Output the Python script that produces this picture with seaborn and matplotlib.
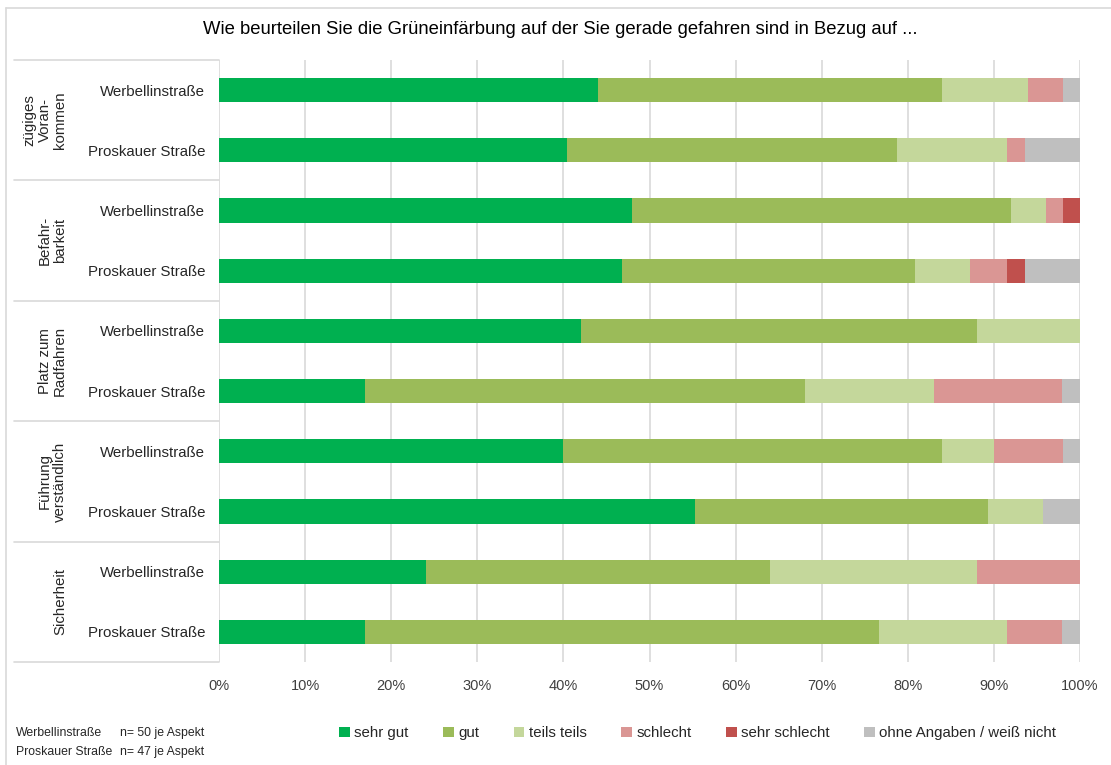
import numpy as np
import pandas as pd
import matplotlib
matplotlib.use("Agg")
import matplotlib.pyplot as plt
import matplotlib.transforms as mtransforms
from matplotlib.patches import Patch
from matplotlib.lines import Line2D
import seaborn as sns

# Daten (Prozent je Zeile)
streets = ["Werbellinstraße", "Proskauer Straße"] * 5
aspects = ["zügiges\nVoran-\nkommen", "Befahr-\nbarkeit", "Platz zum\nRadfahren",
           "Führung\nverständlich", "Sicherheit"]
categories = ["sehr gut", "gut", "teils teils", "schlecht", "sehr schlecht",
              "ohne Angaben / weiß nicht"]

sehr_gut = [44.0, 40.4, 48.0, 46.8, 42.0, 17.0, 40.0, 55.3, 24.0, 17.0]
gut = [40.0, 38.3, 44.0, 34.0, 46.0, 51.1, 44.0, 34.0, 40.0, 59.6]
teils_teils = [10.0, 12.8, 4.0, 6.4, 12.0, 14.9, 6.0, 6.4, 24.0, 14.9]
schlecht = [4.0, 2.1, 2.0, 4.3, 0.0, 14.9, 8.0, 0.0, 12.0, 6.4]
sehr_schlecht = [0.0, 0.0, 2.0, 2.1, 0.0, 0.0, 0.0, 0.0, 0.0, 0.0]
ohne_angaben = [2.0, 6.4, 0.0, 6.4, 0.0, 2.1, 2.0, 4.3, 0.0, 2.1]

colors = ["#00b050", "#9bbb59", "#c4d79b", "#da9694", "#c0504d", "#bfbfbf"]

df = pd.DataFrame({
    "row": [f"r{i}" for i in range(len(streets))],
    "sehr gut": sehr_gut,
    "gut": gut,
    "teils teils": teils_teils,
    "schlecht": schlecht,
    "sehr schlecht": sehr_schlecht,
    "ohne Angaben / weiß nicht": ohne_angaben,
})
cum = df[categories].cumsum(axis=1)

sns.set_style("white")
plt.rcParams["font.family"] = ["Liberation Sans", "DejaVu Sans"]

fig = plt.figure(figsize=(11.11, 7.65), dpi=100)
W, H = 1111, 765
ax = fig.add_axes([219 / W, 1 - 662 / H, (1080 - 219) / W, (662 - 60) / H])

# gestapelte Balken: von hinten (Summe) nach vorne
for i in range(len(categories) - 1, -1, -1):
    sns.barplot(x=cum[categories[i]], y=df["row"], order=df["row"], orient="h",
                color=colors[i], width=0.4, linewidth=0, saturation=1, ax=ax)

ax.set_xlim(0, 100)
ax.set_ylim(len(streets) - 0.5, -0.5)
ax.set_xticks(np.arange(0, 101, 10))
ax.set_xticklabels([f"{v}%" for v in range(0, 101, 10)], fontsize=10.5, color="#404040")
ax.set_yticks(range(len(streets)))
ax.set_yticklabels(streets, fontsize=10.8, color="#262626")
ax.tick_params(axis="both", length=0)
ax.tick_params(axis="y", pad=10)
ax.tick_params(axis="x", pad=12)
ax.set_xlabel("")
ax.set_ylabel("")
ax.grid(axis="x", color="#d9d9d9", linewidth=1.2)
ax.set_axisbelow(True)
for s in ax.spines.values():
    s.set_visible(False)

# Tabelle links
tr = mtransforms.blended_transform_factory(fig.transFigure, ax.transData)
for yb in [-0.5, 1.5, 3.5, 5.5, 7.5, 9.5]:
    ax.add_line(Line2D([14 / W, 219 / W], [yb, yb], transform=tr, color="#d9d9d9",
                       linewidth=1.2, clip_on=False))
for k, a in enumerate(aspects):
    ax.text(67 / W, 2 * k + 0.5, a, transform=tr, rotation=90, ha="right", va="center",
            multialignment="center", fontsize=10.8, color="#262626", linespacing=1.1)

# Rahmen
fig.add_artist(Line2D([6 / W, 1], [1 - 8 / H, 1 - 8 / H], transform=fig.transFigure,
                      color="#d9d9d9", linewidth=1.2))
fig.add_artist(Line2D([6 / W, 6 / W], [0, 1 - 8 / H], transform=fig.transFigure,
                      color="#d9d9d9", linewidth=1.2))

fig.text(560 / W, 1 - 30 / H, "Wie beurteilen Sie die Grüneinfärbung auf der Sie gerade gefahren sind in Bezug auf ...",
         ha="center", va="center", fontsize=13.3, color="#000000")

# Legende
handles = [Patch(facecolor=c, edgecolor="none") for c in colors]
fig.legend(handles, categories, loc="center left", bbox_to_anchor=(326 / W, 1 - 733 / H),
           ncol=6, frameon=False, fontsize=10.8, handlelength=0.7, handleheight=0.7,
           handletextpad=0.3, columnspacing=2.3, labelcolor="#262626")

fig.text(16 / W, 1 - 733 / H, "Werbellinstraße", ha="left", va="center", fontsize=8.8, color="#262626")
fig.text(16 / W, 1 - 752 / H, "Proskauer Straße", ha="left", va="center", fontsize=8.8, color="#262626")
fig.text(120 / W, 1 - 733 / H, "n= 50 je Aspekt", ha="left", va="center", fontsize=8.8, color="#262626")
fig.text(120 / W, 1 - 752 / H, "n= 47 je Aspekt", ha="left", va="center", fontsize=8.8, color="#262626")

fig.savefig("out.png", dpi=100)
